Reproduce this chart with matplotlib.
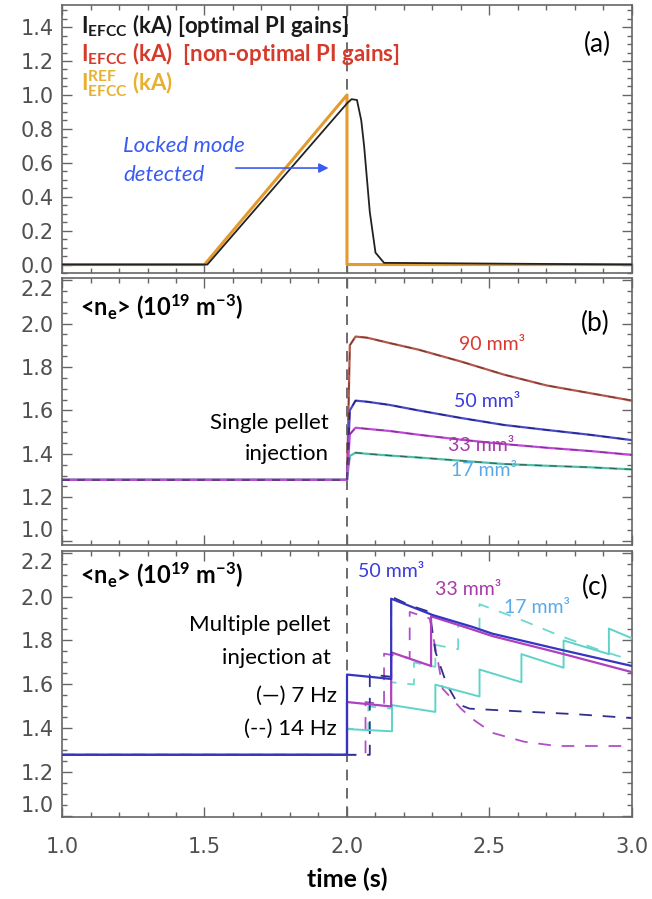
import matplotlib
matplotlib.use('Agg')
import matplotlib.pyplot as plt
from matplotlib.ticker import MultipleLocator

plt.rcParams['font.family'] = ['Lato', 'DejaVu Sans']
plt.rcParams['mathtext.default'] = 'regular'

# ---------------- data ----------------
# (a) EFCC currents
t_ref = [1.0, 1.5, 2.0, 2.0, 3.0]
i_ref = [0.0, 0.0, 1.0, 0.0, 0.0]
t_opt = [1.0, 1.51, 2.0, 2.016, 2.035, 2.05, 2.06, 2.08, 2.10, 2.13, 3.0]
i_opt = [0.0, 0.0, 0.95, 0.975, 0.97, 0.85, 0.70, 0.31, 0.07, 0.01, 0.0]

# (b) single pellet, <ne> for pellet volumes
t_b = [1.0, 2.0, 2.01, 2.03, 2.07, 2.15, 2.25, 2.4, 2.55, 2.7, 2.85, 3.0]
ne_b90 = [1.28, 1.28, 1.90, 1.94, 1.935, 1.91, 1.88, 1.825, 1.765, 1.715, 1.68, 1.645]
ne_b50 = [1.28, 1.28, 1.60, 1.645, 1.64, 1.625, 1.60, 1.565, 1.533, 1.51, 1.488, 1.463]
ne_b33 = [1.28, 1.28, 1.49, 1.52, 1.515, 1.505, 1.488, 1.465, 1.445, 1.428, 1.413, 1.395]
ne_b17 = [1.28, 1.28, 1.39, 1.405, 1.40, 1.392, 1.383, 1.368, 1.353, 1.345, 1.338, 1.328]

# (c) multiple pellets, 7 Hz (solid)
t_c50 = [1.0, 2.0, 2.0, 2.155, 2.155, 2.30, 2.44, 2.51, 2.74, 3.0]
ne_c50 = [1.28, 1.28, 1.645, 1.625, 1.99, 1.916, 1.862, 1.831, 1.761, 1.684]
t_c33 = [1.0, 2.0, 2.0, 2.155, 2.155, 2.295, 2.295, 2.44, 2.51, 2.74, 3.0]
ne_c33 = [1.28, 1.28, 1.52, 1.50, 1.746, 1.684, 1.91, 1.85, 1.82, 1.745, 1.656]
t_c17 = [1.0, 2.0, 2.0, 2.158, 2.158, 2.31, 2.31, 2.465, 2.465, 2.612, 2.612,
         2.76, 2.76, 2.919, 2.919, 3.0]
ne_c17 = [1.28, 1.28, 1.397, 1.387, 1.506, 1.475, 1.599, 1.545, 1.668, 1.61, 1.738,
          1.676, 1.80, 1.738, 1.854, 1.81]

# (c) multiple pellets, 14 Hz (dashed)
t_d50 = [1.0, 2.08, 2.08, 2.155, 2.155, 2.22, 2.29, 2.31, 2.35, 2.39, 2.43, 2.6, 2.8, 3.0]
ne_d50 = [1.28, 1.28, 1.645, 1.635, 2.0, 1.96, 1.93, 1.75, 1.60, 1.51, 1.49, 1.478, 1.465, 1.447]
t_d33 = [1.0, 2.065, 2.065, 2.13, 2.13, 2.22, 2.22, 2.29, 2.32, 2.336, 2.40, 2.44, 2.51,
         2.62, 2.735, 3.0]
ne_d33 = [1.28, 1.28, 1.52, 1.51, 1.74, 1.72, 1.93, 1.90, 1.70, 1.58, 1.49, 1.443, 1.38,
          1.34, 1.32, 1.32]
t_d17 = [1.0, 2.0, 2.0, 2.075, 2.075, 2.155, 2.155, 2.235, 2.235, 2.31, 2.31, 2.39, 2.39,
         2.465, 2.465, 2.6, 2.75, 2.9, 3.0]
ne_d17 = [1.28, 1.28, 1.40, 1.39, 1.50, 1.49, 1.61, 1.60, 1.70, 1.68, 1.78, 1.76, 1.87,
          1.85, 1.965, 1.90, 1.82, 1.75, 1.71]

yticks_a = [0.0, 0.2, 0.4, 0.6, 0.8, 1.0, 1.2, 1.4]
yticks_ne = [1.0, 1.2, 1.4, 1.6, 1.8, 2.0, 2.2]

# ---------------- figure ----------------
fig = plt.figure(figsize=(6.52, 8.99), dpi=100)
left, width = 0.0951, 0.8742
ax_a = fig.add_axes([left, 0.6963, width, 0.2981])
ax_b = fig.add_axes([left, 0.3938, width, 0.2970])
ax_c = fig.add_axes([left, 0.0907, width, 0.2959])

grey = '#666666'
for ax in (ax_a, ax_b, ax_c):
    ax.set_xlim(1.0, 3.0)
    ax.xaxis.set_major_locator(MultipleLocator(0.5))
    ax.xaxis.set_minor_locator(MultipleLocator(0.1))
    ax.yaxis.set_minor_locator(MultipleLocator(0.05))
    ax.tick_params(which='both', direction='in', top=True, right=True, colors=grey,
                   labelcolor='#505050', width=1, labelfontfamily='DejaVu Sans')
    ax.tick_params(which='major', length=7)
    ax.tick_params(which='minor', length=3.5)
    ax.tick_params(axis='y', labelsize=15, pad=6)
    ax.tick_params(axis='x', labelsize=15, pad=14)
    for s in ax.spines.values():
        s.set_color(grey)
        s.set_linewidth(1.2)
    ax.axvline(2.0, color='#444444', lw=1.1, dashes=(7, 5), zorder=1)
    if ax is not ax_c:
        ax.tick_params(axis='x', labelbottom=False)

ax_a.set_yticks(yticks_a)
for ax in (ax_b, ax_c):
    ax.set_yticks(yticks_ne)
    labs = ax.get_yticklabels()
    labs[0].set_va('bottom')
    labs[-1].set_va('top')

# (a)
ax_a.set_ylim(-0.05, 1.53)
ax_a.plot(t_ref, i_ref, color='#e39b2f', lw=2.2, zorder=2)
ax_a.plot(t_opt, i_opt, color='#222222', lw=1.3, zorder=3)
ax_a.text(1.067, 1.41, 'I$_{EFCC}$ (kA) [optimal PI gains]', fontsize=16,
          fontweight='bold', color='#1a1a1a', va='center')
ax_a.text(1.067, 1.245, 'I$_{EFCC}$ (kA)  [non-optimal PI gains]', fontsize=16,
          fontweight='bold', color='#d63a2a', va='center')
ax_a.text(1.067, 1.069, 'I$^{REF}_{EFCC}$ (kA)', fontsize=16,
          fontweight='bold', color='#e8b030', va='center')
ax_a.text(2.88, 1.30, '(a)', fontsize=19, ha='center', va='center')
ax_a.text(1.214, 0.696, 'Locked mode', fontsize=16, style='italic',
          color='#3a5cf0', va='center')
ax_a.text(1.214, 0.53, 'detected', fontsize=16, style='italic',
          color='#3a5cf0', va='center')
ax_a.annotate('', xy=(1.945, 0.569), xytext=(1.60, 0.569),
              arrowprops=dict(arrowstyle='-|>', color='#3a5cf0', lw=1.2,
                              mutation_scale=14))

# (b)
ax_b.set_ylim(0.98, 2.21)
series_b = [(ne_b90, '#b4584e', '#7a3a30'), (ne_b50, '#4a4ac8', '#202080'),
            (ne_b17, '#50c0a8', '#306858'), (ne_b33, '#c04ad8', '#803090')]
for ne, c, cd in series_b:
    ax_b.plot(t_b, ne, color=c, lw=1.6, zorder=2)
    ax_b.plot(t_b, ne, color=cd, lw=0.9, dashes=(6, 6), zorder=3)
ax_b.text(1.064, 2.073, '<n$_{e}$> (10$^{19}$ m$^{-3}$)', fontsize=17,
          fontweight='bold', va='center')
ax_b.text(2.87, 2.0, '(b)', fontsize=19, ha='center', va='center')
ax_b.text(1.935, 1.54, 'Single pellet', fontsize=16, ha='right', va='center')
ax_b.text(1.935, 1.398, 'injection', fontsize=16, ha='right', va='center')
ax_b.text(2.51, 1.905, '90 mm³', fontsize=14, color='#d83a2e', ha='center', va='center')
ax_b.text(2.49, 1.64, '50 mm³', fontsize=14, color='#3a3ae0', ha='center', va='center')
ax_b.text(2.47, 1.436, '33 mm³', fontsize=14, color='#a83aa8', ha='center', va='center')
ax_b.text(2.48, 1.322, '17 mm³', fontsize=14, color='#5aaae8', ha='center', va='center')

# (c)
ax_c.set_ylim(0.995, 2.205)
ax_c.plot(t_d17, ne_d17, color='#6fd8cc', lw=1.3, dashes=(7, 6), zorder=2)
ax_c.plot(t_d33, ne_d33, color='#b050c8', lw=1.3, dashes=(7, 6), zorder=2)
ax_c.plot(t_d50, ne_d50, color='#30308a', lw=1.3, dashes=(7, 6), zorder=2)
ax_c.plot(t_c17, ne_c17, color='#5fd3c8', lw=1.4, zorder=3)
ax_c.plot(t_c33, ne_c33, color='#b040c0', lw=1.6, zorder=3)
ax_c.plot(t_c50, ne_c50, color='#3535c0', lw=1.6, zorder=4)
ax_c.text(1.064, 2.095, '<n$_{e}$> (10$^{19}$ m$^{-3}$)', fontsize=17,
          fontweight='bold', va='center')
ax_c.text(2.87, 2.04, '(c)', fontsize=19, ha='center', va='center')
ax_c.text(1.942, 1.87, 'Multiple pellet', fontsize=16, ha='right', va='center')
ax_c.text(1.942, 1.72, 'injection at', fontsize=16, ha='right', va='center')
ax_c.text(1.964, 1.55, '(—) 7 Hz', fontsize=16, ha='right', va='center')
ax_c.text(1.964, 1.40, '(--) 14 Hz', fontsize=16, ha='right', va='center')
ax_c.text(2.155, 2.116, '50 mm³', fontsize=14, color='#3a3ae0', ha='center', va='center')
ax_c.text(2.424, 2.03, '33 mm³', fontsize=14, color='#a83aa8', ha='center', va='center')
ax_c.text(2.668, 1.95, '17 mm³', fontsize=14, color='#5aaae8', ha='center', va='center')
ax_c.set_xlabel('time (s)', fontsize=18, fontweight='bold', labelpad=8)

fig.savefig('out.png', dpi=100)
